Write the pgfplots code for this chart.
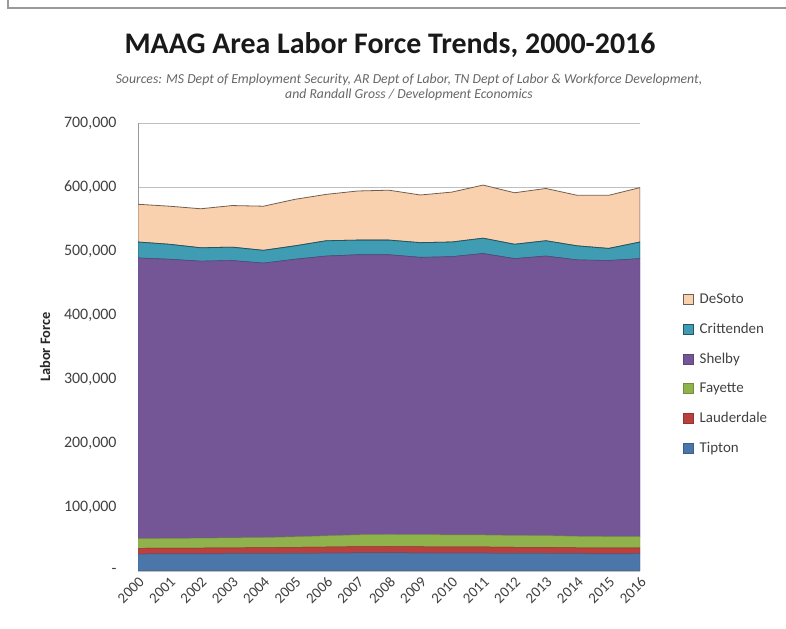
\documentclass[border=0pt]{standalone}
\usepackage{pgfplots}
\pgfplotsset{compat=1.18}
\usepackage{pgfplotstable}
\usepackage{fontspec}
\setmainfont{Carlito}
\definecolor{cTip}{HTML}{4A76AA}
\definecolor{cLau}{HTML}{BA403D}
\definecolor{cFay}{HTML}{8FB24C}
\definecolor{cShe}{HTML}{745697}
\definecolor{cCri}{HTML}{3F9CB2}
\definecolor{cDeS}{HTML}{FAD1AF}
\pgfplotstableread{
year Tipton Lauderdale Fayette Shelby Crittenden DeSoto
2000 26500 9000 15000 438500 25000 59000
2001 26700 9000 15200 436100 23500 59500
2002 26800 9100 15400 432700 21000 61000
2003 27000 9200 15600 433200 21000 65000
2004 27200 9300 15800 428700 20000 69000
2005 27500 9500 16500 433500 21000 72700
2006 27800 9700 17500 437000 24000 72500
2007 28200 9900 18500 437400 23000 76750
2008 28300 10000 18800 436900 23000 78000
2009 28000 9900 18800 433300 23000 74500
2010 27900 9900 18800 434400 23000 78000
2011 27800 9800 18700 439700 24000 83000
2012 27500 9600 18500 432400 22500 80500
2013 27400 9500 18400 436700 24000 81700
2014 27000 9300 18000 431700 22000 79000
2015 26800 9200 17800 431200 19000 83000
2016 27000 9200 17500 434300 26000 85000
}\datatable
\begin{document}
\begin{tikzpicture}
\path[use as bounding box] (0bp,0bp) rectangle (786bp,629bp);
\draw[black!40, line width=1.2bp] (8bp,640bp) -- (8bp,621bp) -- (800bp,621bp);
\node[font=\bfseries\fontsize{30}{33}\selectfont, text=black!90] at (390bp,584bp) {MAAG Area Labor Force Trends, 2000-2016};
\node[font=\itshape\fontsize{13.8}{15}\selectfont, text=black!60, align=center] at (409bp,542bp)
  {Sources: MS Dept of Employment Security, AR Dept of Labor, TN Dept of Labor \& Workforce Development,\\ and Randall Gross / Development Economics};
\begin{axis}[
  at={(138bp,58bp)}, anchor=south west,
  width=502bp, height=448bp, scale only axis,
  stack plots=y,
  xmin=2000, xmax=2016, ymin=0, ymax=700000,
  scaled y ticks=false,
  xtick={2000,...,2016},
  xticklabels={2000,2001,2002,2003,2004,2005,2006,2007,2008,2009,2010,2011,2012,2013,2014,2015,2016},
  ytick={0,100000,...,700000},
  yticklabels={{-},{100,000},{200,000},{300,000},{400,000},{500,000},{600,000},{700,000}},
  tick style={draw=none},
  ymajorgrids, grid style={black!25, line width=0.8bp},
  axis line style={draw=none},
  yticklabel style={font=\fontsize{16}{17}\selectfont, text=black!75},
  yticklabel shift=18bp,
  xticklabel style={font=\fontsize{15}{17}\selectfont, text=black!75, rotate=45, anchor=north east, inner sep=0.5bp},
  xticklabel shift=4bp,
  ylabel={\bfseries Labor Force},
  ylabel style={font=\fontsize{14.5}{16}\selectfont, text=black!85},
  ylabel shift=7bp,
  legend style={at={(1.085,0.44)}, anchor=west, draw=none, fill=none,
    font=\fontsize{15}{17}\selectfont, text=black!75, row sep=14bp, inner sep=0pt},
  legend cell align=left,
  reverse legend,
  legend image code/.code={\fill[#1] (0bp,-5bp) rectangle (10bp,5bp); \draw[#1, line width=0.4bp, fill=none] (0bp,-5bp) rectangle (10bp,5bp); \path (14bp,0bp);},
]
\addplot[fill=cTip, draw=cTip!80!black, line width=0.5bp] table[x=year,y=Tipton]{\datatable} \closedcycle;
\addlegendentry{Tipton}
\addplot[fill=cLau, draw=cLau!80!black, line width=0.5bp] table[x=year,y=Lauderdale]{\datatable} \closedcycle;
\addlegendentry{Lauderdale}
\addplot[fill=cFay, draw=cFay!80!black, line width=0.5bp] table[x=year,y=Fayette]{\datatable} \closedcycle;
\addlegendentry{Fayette}
\addplot[fill=cShe, draw=cShe!80!black, line width=0.5bp] table[x=year,y=Shelby]{\datatable} \closedcycle;
\addlegendentry{Shelby}
\addplot[fill=cCri, draw=cCri!55!black, line width=0.8bp] table[x=year,y=Crittenden]{\datatable} \closedcycle;
\addlegendentry{Crittenden}
\addplot[fill=cDeS, draw=cDeS!45!black, line width=0.8bp] table[x=year,y=DeSoto]{\datatable} \closedcycle;
\addlegendentry{DeSoto}
\draw[black!40, line width=0.8bp] (axis cs:2000,0) -- (axis cs:2000,700000);
\end{axis}
\end{tikzpicture}
\end{document}
